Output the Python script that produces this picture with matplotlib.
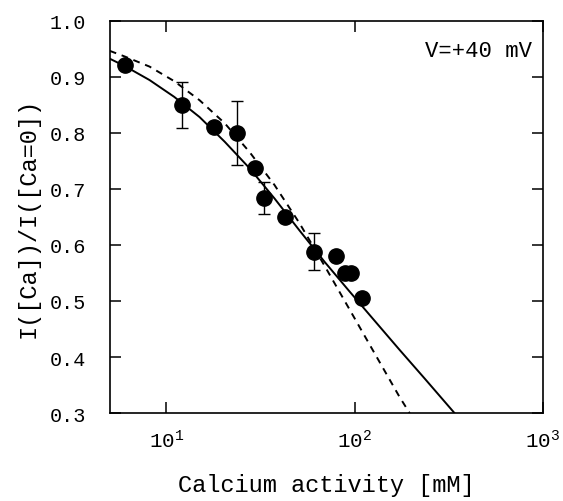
import matplotlib.pyplot as plt
from matplotlib.ticker import LogLocator, FixedLocator, NullLocator

plt.rcParams['font.family'] = ['Liberation Mono', 'DejaVu Sans Mono']
plt.rcParams['mathtext.fontset'] = 'custom'
plt.rcParams['mathtext.rm'] = 'Liberation Mono'

# measured points
ca = [6.0, 12.1, 18.0, 23.8, 29.4, 33.2, 42.5, 61.2, 79.2, 88.5, 96.0, 109.4]
ratio = [0.920, 0.850, 0.810, 0.800, 0.738, 0.683, 0.650, 0.588, 0.580, 0.550, 0.550, 0.505]
err_lo = [0, 0.042, 0, 0.057, 0, 0.027, 0, 0.033, 0, 0, 0, 0]
err_hi = [0, 0.041, 0, 0.057, 0, 0.029, 0, 0.033, 0, 0, 0, 0]

# fitted curves
fit_x = [5.0, 6.0, 8.13, 11.0, 15.0, 20.4, 27.6, 37.5, 50.9, 69.2, 94.0, 127.6, 173.3, 235.4, 340.0]
fit_solid = [0.932, 0.919, 0.894, 0.864, 0.828, 0.784, 0.737, 0.683, 0.626, 0.570, 0.517, 0.465, 0.413, 0.362, 0.300]
dash_x = [5.0, 6.0, 8.13, 11.0, 15.0, 20.4, 27.6, 37.5, 50.9, 69.2, 94.0, 127.6, 173.3, 196.3]
fit_dash = [0.946, 0.936, 0.918, 0.892, 0.858, 0.817, 0.766, 0.707, 0.639, 0.563, 0.485, 0.407, 0.329, 0.300]

fig = plt.figure(figsize=(5.63, 5.02), dpi=100)
ax = fig.add_axes([0.195, 0.175, 0.769, 0.782])

ax.plot(fit_x, fit_solid, color='black', lw=1.4)
ax.plot(dash_x, fit_dash, color='black', lw=1.4, dashes=(3.5, 3))
ax.errorbar(ca, ratio, yerr=[err_lo, err_hi], fmt='o', color='black', ms=11,
            elinewidth=1, capsize=4.5, capthick=1)

ax.set_xscale('log')
ax.set_xlim(5, 1000)
ax.set_ylim(0.3, 1.0)
ax.xaxis.set_major_locator(LogLocator(base=10, numticks=5))
ax.xaxis.set_minor_locator(NullLocator())
ax.yaxis.set_major_locator(FixedLocator([0.3, 0.4, 0.5, 0.6, 0.7, 0.8, 0.9, 1.0]))
ax.set_yticklabels(['0.3', '0.4', '0.5', '0.6', '0.7', '0.8', '0.9', '1.0'])
ax.tick_params(direction='in', length=8, width=1.1, top=True, right=True)
ax.tick_params(axis='x', pad=11, labelsize=15)
ax.tick_params(axis='y', pad=17, labelsize=14.5)
for s in ax.spines.values():
    s.set_linewidth(1.2)

ax.set_xlabel('Calcium activity [mM]', fontsize=17, labelpad=16)
ax.set_ylabel('I([Ca])/I([Ca=0])', fontsize=17, labelpad=7)
ax.text(0.975, 0.925, 'V=+40 mV', transform=ax.transAxes, ha='right', va='center', fontsize=16)

plt.savefig('out.png', dpi=100)
